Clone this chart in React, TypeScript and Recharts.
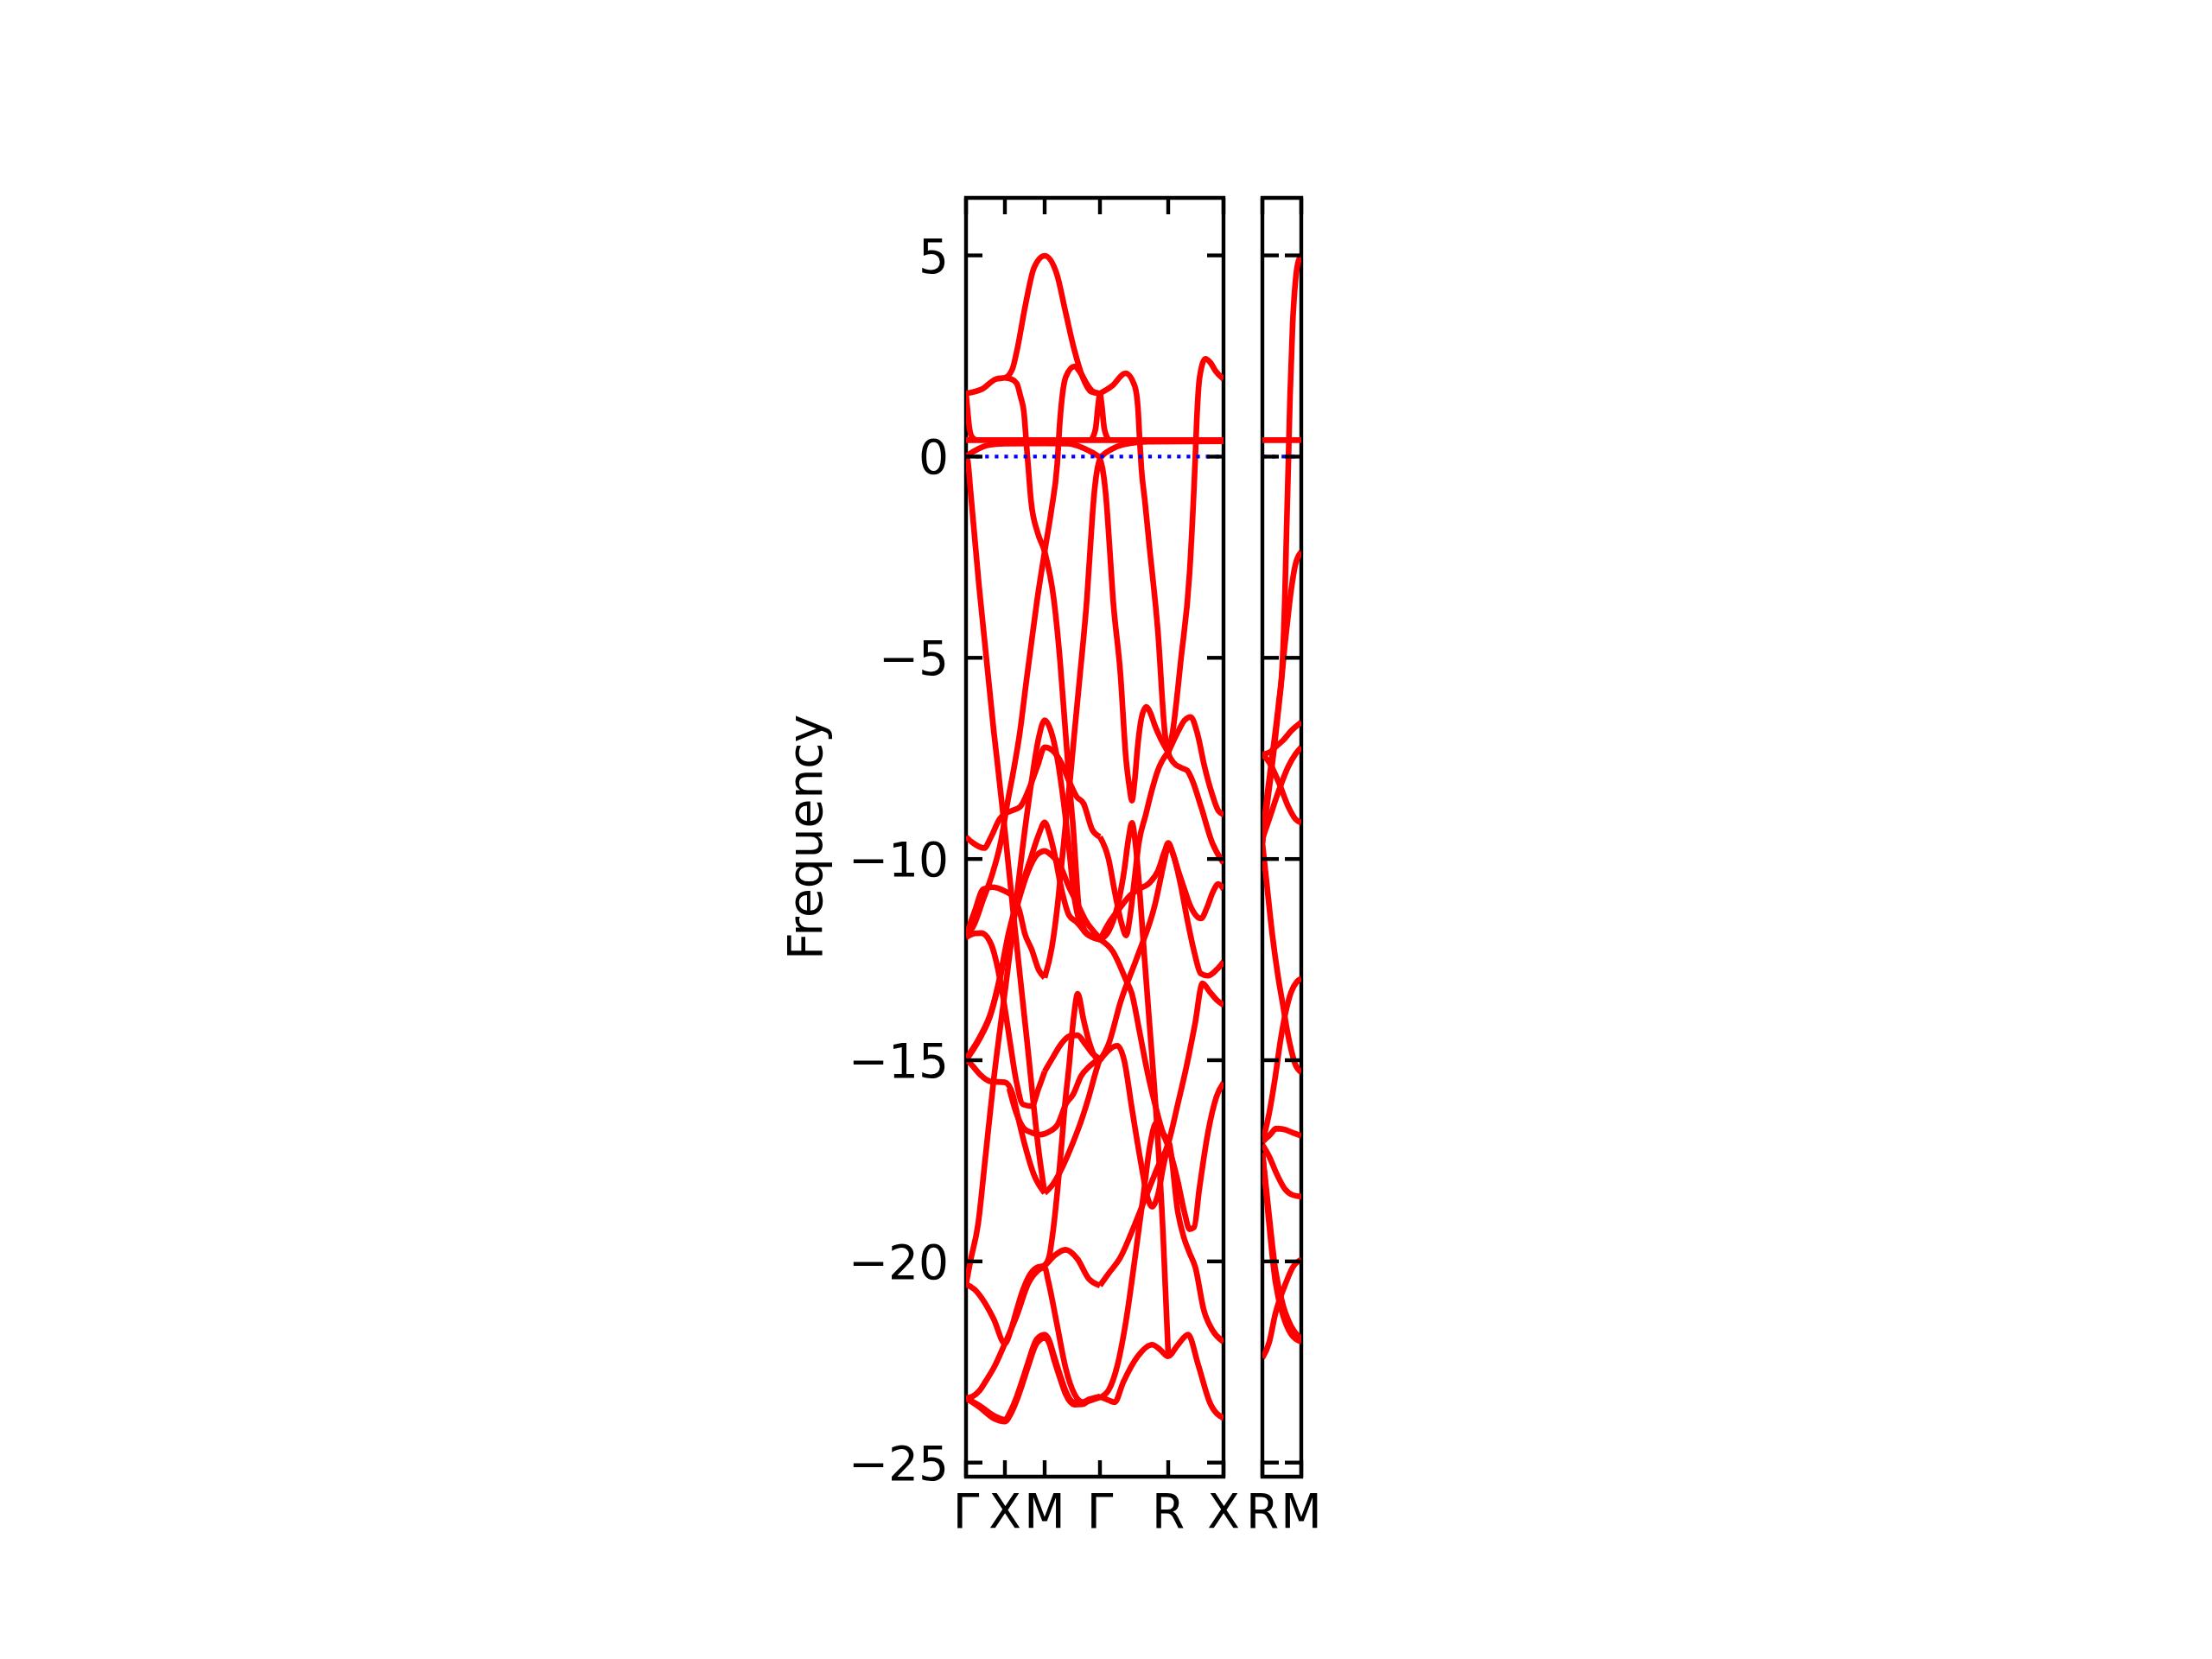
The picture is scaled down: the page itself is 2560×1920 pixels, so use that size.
import React from "react";
import { LineChart, Line, XAxis, YAxis, ReferenceLine, ReferenceArea } from "recharts";

type Pt = [number, number];

// k-path positions along the main panel and their labels
const pathTicks = [0, 45, 91, 155, 234, 298];
const pathLabels = ["Γ", "X", "M", "Γ", "R", "X"];
// side panel R -> M
const sideTicks = [0, 45];
const sideLabels = ["R", "M"];
const freqTicks = [5, 0, -5, -10, -15, -20, -25];
const freqMin = -25.35;
const freqMax = 6.43;

// ---- main panel bands (distance, frequency) ----
const flatBand: Pt[] = [[0, 0.41], [298, 0.41]];
const b01: Pt[] = [[0, 1.57], [18.7, 1.68], [35, 1.93], [45, 1.96], [53.7, 2.18], [58.7, 2.61], [68.7, 3.76], [78.7, 4.69], [91, 4.99], [105, 4.54], [115, 3.61], [125, 2.68], [135, 1.97], [145, 1.61], [155, 1.57]];
const b02: Pt[] = [[0, 1.57], [2, 1.1], [4, 0.7], [7, 0.48], [12, 0.41]];
const b03: Pt[] = [[0, 0], [8, 0.12], [20, 0.25], [35, 0.31], [45, 0.32], [91, 0.33], [118, 0.32], [135, 0.22], [148, 0.08], [155, 0], [162, 0.1], [175, 0.25], [190, 0.33], [210, 0.37], [298, 0.38]];
const b04: Pt[] = [[145, 0.42], [150, 0.7], [153, 1.3], [155, 1.57], [157, 1.3], [160, 0.7], [165, 0.42]];
const b05: Pt[] = [[45, 1.96], [52, 1.93], [58.7, 1.82], [63, 1.5], [67, 1.1], [70.3, 0.2], [72, -0.25], [75.3, -1.11], [83, -1.9], [91, -2.36], [102, -3.61], [108.7, -5.04], [115.3, -6.9], [121, -8.48], [124.3, -9.3], [127.7, -10.4], [131, -11.3], [140, -11.85], [155, -12]];
const b06: Pt[] = [[0, -11.95], [10, -11.6], [20, -11.0], [30, -10.4], [40, -9.6], [48, -8.6], [55, -7.8], [62, -6.9], [70.3, -5.5], [75.3, -4.69], [82, -3.61], [91, -2.36], [99, -1.3], [105.3, -0.25], [108.7, 0.89], [115.3, 1.97], [125.3, 2.24], [133.7, 2.04], [140, 1.8], [147, 1.62], [155, 1.57]];
const b07: Pt[] = [[0, -9.45], [8, -9.6], [21, -9.73], [29, -9.45], [39, -9.0], [45, -8.87], [53, -8.8], [62.7, -8.7], [72.7, -8.27], [82.7, -7.69], [91, -7.22], [100, -7.3], [110, -7.6], [120, -8.1], [128, -8.45], [136, -8.62], [146, -9.27], [155, -9.45]];
const b08: Pt[] = [[0, -20.57], [5, -20.0], [14, -19.07], [22, -17.5], [32, -15.49], [45, -13.3], [55, -11.6], [65, -9.8], [75, -8.2], [84, -7.0], [91, -6.55], [98, -6.8], [106, -7.55], [113, -8.6], [119, -9.7], [125, -10.9], [132, -11.6], [142, -11.9], [155, -12]];
const b09: Pt[] = [[0, -14.96], [16, -14.42], [29.3, -13.78], [39.3, -12.92], [49.3, -11.84], [61, -10.91], [76, -9.91], [84, -9.4], [91, -9.09], [97, -9.4], [102.7, -9.9], [111, -10.8], [119.3, -11.4], [127.7, -11.56], [140, -11.85], [155, -12]];
const b10: Pt[] = [[0, -15], [15, -14.5], [28, -13.9], [38, -13.1], [48, -12.1], [60, -11.1], [72, -10.3], [82, -9.9], [91, -9.8], [101, -9.95], [106, -10.05], [119.3, -10.7], [129.3, -11.13], [139.3, -11.56], [152.7, -11.92], [155, -11.98]];
const b11: Pt[] = [[0, -11.95], [10, -11.85], [17.7, -11.84], [29.3, -12.13], [39.3, -12.99], [46, -13.85], [51, -14.56], [58, -15.5], [66, -16.1], [76, -16.14], [84, -15.7], [91, -15.28]];
const b12: Pt[] = [[0, -14.96], [8, -15.15], [16, -15.35], [29, -15.53], [45, -15.55], [54, -15.85], [60, -16.4], [68, -17.1], [78.7, -17.85], [91, -18.3]];
const b13: Pt[] = [[0, 0], [2, -0.1], [5, -0.8], [15, -3.2], [32, -6.8], [36, -7.55], [45, -9.3], [55, -11.4], [70, -14.4], [85, -17.4], [91, -18.3]];
const b14: Pt[] = [[50, -15.7], [58, -16.3], [67.7, -16.71], [76, -16.8], [86, -16.85], [96, -16.78], [106, -16.6], [116, -16.07], [124, -15.85], [133, -15.4], [143, -15.15], [155, -14.96]];
const b15: Pt[] = [[91, -15.28], [100, -14.95], [110, -14.6], [120, -14.4], [129, -14.38], [138, -14.6], [147, -14.85], [155, -14.96]];
const b16: Pt[] = [[91, -20.1], [96, -19.9], [101, -19.2], [106, -18.2], [111, -17.0], [114.3, -16.14], [119.3, -15.13], [124.3, -13.99], [129.3, -13.35], [136, -13.99], [142.7, -14.56], [152.7, -14.99], [155, -15]];
const b17: Pt[] = [[91, -18.3], [100, -18.1], [108.7, -17.78], [122, -17.14], [135, -16.4], [142, -15.92], [150, -15.3], [155, -14.96]];
const b19: Pt[] = [[0, -20.57], [10, -20.7], [18.7, -20.93], [32, -21.43], [45, -22.04], [52, -21.7], [58.7, -21.2], [66, -20.7], [72, -20.4], [82, -20.15], [91, -20.1], [102, -19.86], [115, -19.71], [128.7, -19.93], [142, -20.43], [155, -20.6]];
const b20: Pt[] = [[0, -23.4], [8, -23.35], [15.3, -23.22], [25, -22.9], [32, -22.65], [45, -22.04], [58.7, -21.35], [72, -20.55], [82, -20.25], [91, -20.15], [95.3, -20.5], [105.3, -21.57], [115.3, -22.65], [125.3, -23.29], [135.3, -23.5], [145, -23.45], [155, -23.38]];
const b21: Pt[] = [[0, -23.4], [15.3, -23.58], [32, -23.83], [45, -23.93], [52, -23.7], [58.7, -23.36], [66, -22.9], [72, -22.5], [82, -21.93], [91, -21.82], [96, -21.95], [102, -22.36], [110, -22.9], [115.3, -23.22], [125.3, -23.5], [135, -23.5], [142, -23.43], [155, -23.36]];
const b22: Pt[] = [[0, -23.4], [15.3, -23.62], [32, -23.9], [45, -23.98], [52, -23.78], [58.7, -23.45], [66, -23.0], [72, -22.6], [82, -22.03], [91, -21.9], [96, -22.02], [102, -22.45], [110, -22.98], [115.3, -23.3], [125.3, -23.56], [135, -23.55], [142, -23.46], [155, -23.36]];
const b23: Pt[] = [[91, -12.95], [99.3, -12.2], [106, -11.13], [111, -10.05], [116, -8.98], [121, -7.9], [125.3, -6.9], [132, -5.4], [140, -3.5], [144, -2.2], [148, -1.0], [152, -0.3], [155, -0.05]];
const b24: Pt[] = [[0, -11.95], [5, -11.6], [10, -11.3], [20, -10.75], [30, -10.7], [45, -10.8], [55, -10.95], [62, -11.3], [68, -11.85], [76, -12.25], [84, -12.75], [91, -12.95]];

const c01: Pt[] = [[155, 1.57], [168.7, 1.75], [184.7, 2.07], [195.3, 1.75], [199, 1.2], [201, 0.4], [203, -0.3], [207, -1.1], [212, -2.18], [222, -4.33], [230.3, -6.9], [234, -7.35], [240, -7.6], [248.7, -7.73], [256, -7.8], [262, -8.05], [272, -8.7], [285, -9.6], [298, -10.1]];
const c02: Pt[] = [[234, -7.35], [238.7, -6.9], [248.7, -5.04], [258.7, -2.9], [265.3, -0.04], [267, 0.89], [270.3, 1.96], [277, 2.43], [283, 2.33], [288.7, 2.13], [298, 1.93]];
const c03: Pt[] = [[155, -0.05], [158, -0.3], [162, -1.0], [166, -2.2], [170, -3.5], [178.7, -5.4], [185.3, -7.55], [189, -8.2], [192, -8.55], [195, -8.1], [198.7, -7.19], [203, -6.5], [208.7, -6.22], [213, -6.35], [218.7, -6.69], [225, -7.0], [234, -7.35]];
const c04: Pt[] = [[234, -7.35], [245, -6.85], [253, -6.55], [260, -6.47], [268, -6.9], [276, -7.7], [285, -8.4], [292, -8.8], [298, -8.9]];
const c05: Pt[] = [[155, -9.45], [165, -10.0], [172, -10.8], [180, -11.6], [185.3, -11.9], [190, -11.4], [195, -10.5], [200, -9.6], [208, -8.9], [215, -8.3], [222, -7.8], [232, -7.4], [234, -7.35]];
const c06: Pt[] = [[155, -12], [165, -11.6], [178.7, -11.2], [190, -10.9], [200, -10.75], [212, -10.6], [222, -10.3], [230, -9.8], [234, -9.6], [240, -9.9], [245.3, -10.27], [252, -10.7], [258.7, -11.12], [266, -11.4], [272, -11.48], [279, -11.2], [285.3, -10.84], [292, -10.62], [298, -10.75]];
const c07: Pt[] = [[234, -9.6], [240, -9.9], [248, -10.6], [256, -11.5], [264, -12.3], [272, -12.85], [280, -12.9], [290, -12.75], [298, -12.55]];
const c08: Pt[] = [[155, -15], [165, -14.6], [178.7, -13.56], [198.7, -12.4], [218.7, -11.13], [228, -10.2], [234, -9.6]];
const c09: Pt[] = [[155, -12], [165, -11.8], [175, -11.2], [183, -10.3], [188, -9.5], [192, -9.1], [196, -9.6], [201, -10.8], [206, -12.3], [212, -14.0], [220, -16.3], [228, -19.3], [234, -22.3]];
const c10: Pt[] = [[155, -12], [170, -12.3], [185, -13.0], [192, -13.35], [200, -14.2], [210, -15.3], [220, -16.2], [228, -16.8], [235.3, -17.07], [245.3, -18.79], [252, -19.4], [258.7, -19.79], [265.3, -20.14], [275.3, -21.22], [285, -21.7], [298, -22.0]];
const c11: Pt[] = [[155, -20.6], [165, -20.3], [178.7, -19.9], [195, -19.1], [208.7, -18.36], [222, -17.65], [234, -17.07], [245, -16.1], [255.3, -15.14], [265, -14.1], [273.7, -13.09], [282, -13.3], [290, -13.5], [298, -13.63]];
const c12: Pt[] = [[155, -23.38], [165, -23.2], [175, -22.6], [185, -21.5], [195, -20.0], [205, -18.4], [213, -17.1], [220, -16.56], [227, -16.8], [234, -17.14], [245, -18.0], [253, -18.8], [258.7, -19.2], [264, -19.15], [270, -18.2], [280, -16.8], [290, -15.9], [298, -15.56]];
const c13: Pt[] = [[155, -15], [165, -14.75], [175.3, -14.64], [183, -15.0], [192, -16.2], [202, -17.5], [210, -18.4], [215.3, -18.64], [222, -18.35], [228.7, -17.6], [234, -17.1]];
const c14: Pt[] = [[155, -23.36], [165, -23.45], [172, -23.5], [182, -23.0], [198.7, -22.36], [215.3, -22.07], [225, -22.2], [233.7, -22.36], [245.3, -22.07], [257, -21.82], [268.7, -22.57], [282, -23.5], [298, -23.9]];

// ---- side panel bands R -> M ----
const p01: Pt[] = [[0, 0.41], [45, 0.41]];
const p02: Pt[] = [[0, -9.6], [3, -8.9], [8, -8.0], [14, -7.0], [19, -6.1], [23, -5.2], [26, -3.5], [28, -1.8], [30, -0.2], [32, 1.5], [35, 3.3], [38, 4.3], [41, 4.8], [45, 5.0]];
const p03: Pt[] = [[0, -9.6], [4.4, -8.82], [10, -7.9], [15.2, -6.95], [21, -5.8], [26.1, -4.66], [30, -3.9], [33.4, -3.3], [38, -2.7], [45, -2.37]];
const p04: Pt[] = [[0, -7.4], [8, -7.35], [16, -7.2], [24, -7.05], [34, -6.8], [45, -6.6]];
const p05: Pt[] = [[0, -7.4], [8, -7.6], [19, -8.1], [30, -8.7], [38, -9.0], [45, -9.1]];
const p06: Pt[] = [[0, -9.5], [8, -9.0], [19, -8.3], [30, -7.7], [38, -7.4], [45, -7.22]];
const p07: Pt[] = [[0, -9.6], [5, -10.6], [11.6, -11.9], [18, -12.9], [24.3, -13.7], [29, -14.3], [33.4, -14.75], [38, -15.1], [45, -15.3]];
const p08: Pt[] = [[0, -17.03], [8, -16.3], [15, -15.4], [21, -14.5], [27, -13.8], [33.4, -13.3], [40, -13.05], [45, -12.97]];
const p09: Pt[] = [[0, -17.03], [9, -16.85], [16, -16.7], [25, -16.72], [35, -16.8], [45, -16.88]];
const p10: Pt[] = [[0, -17.1], [8, -17.4], [16, -17.8], [26, -18.2], [35, -18.35], [45, -18.39]];
const p11: Pt[] = [[0, -17.3], [7, -18.7], [15, -20.2], [24, -21.1], [33, -21.6], [45, -21.93]];
const p12: Pt[] = [[0, -17.3], [7, -18.9], [15, -20.5], [24, -21.35], [33, -21.8], [45, -22.0]];
const p13: Pt[] = [[0, -22.4], [8, -22.0], [15, -21.3], [26, -20.6], [35, -20.15], [45, -19.95]];

const mainBands = [flatBand, b01, b02, b03, b04, b05, b06, b07, b08, b09, b10, b11, b12, b13, b14, b15, b16, b17, b19, b20, b21, b22, b23, b24,
  c01, c02, c03, c04, c05, c06, c07, c08, c09, c10, c11, c12, c13, c14];
const sideBands = [p01, p02, p03, p04, p05, p06, p07, p08, p09, p10, p11, p12, p13];

const FONT = "DejaVu Sans";
const FS = 55;
const TICK = 19;
const SPINE = 4.4;
const PLOT_H = 1480;
const MAIN_W = 298;
const SIDE_W = 45;

const toRows = (b: Pt[]) => b.map(([d, v]) => ({ d, v }));
const fmt = (v: number) => (v < 0 ? `\u2212${Math.abs(v)}` : `${v}`);

function makeYTick(plotW: number, withLabel: boolean) {
  return (props: any) => {
    const { x, y, payload } = props;
    return (
      <g>
        <line x1={x} y1={y} x2={x + TICK} y2={y} stroke="#000" strokeWidth={SPINE} />
        <line x1={x + plotW - TICK} y1={y} x2={x + plotW} y2={y} stroke="#000" strokeWidth={SPINE} />
        {withLabel && (
          <text x={x - 20} y={y + 20} textAnchor="end" fontSize={FS} fontFamily={FONT} fill="#000">
            {fmt(payload.value)}
          </text>
        )}
      </g>
    );
  };
}

function makeXTick(ticks: number[], labels: string[]) {
  return (props: any) => {
    const { x, y, payload } = props;
    const label = labels[ticks.indexOf(payload.value)];
    return (
      <g>
        <line x1={x} y1={y} x2={x} y2={y - TICK} stroke="#000" strokeWidth={SPINE} />
        <line x1={x} y1={y - PLOT_H} x2={x} y2={y - PLOT_H + TICK} stroke="#000" strokeWidth={SPINE} />
        <text x={x} y={y + 59} textAnchor="middle" fontSize={FS} fontFamily={FONT} fill="#000">
          {label}
        </text>
      </g>
    );
  };
}

function Panel({ bands, width, plotW, ticks, labels, yAxisWidth, marginLeft, withYLabels }: any) {
  return (
    <LineChart width={width} height={1679} margin={{ top: 79, right: width - marginLeft - yAxisWidth - plotW, bottom: 20, left: marginLeft }}>
      <XAxis
        type="number"
        dataKey="d"
        domain={[0, plotW]}
        allowDataOverflow
        ticks={ticks}
        interval={0}
        height={100}
        axisLine={false}
        tickLine={false}
        tickSize={0}
        tickMargin={0}
        tick={makeXTick(ticks, labels)}
      />
      <YAxis
        type="number"
        domain={[freqMin, freqMax]}
        allowDataOverflow
        ticks={freqTicks}
        interval={0}
        width={yAxisWidth}
        axisLine={false}
        tickLine={false}
        tickSize={0}
        tickMargin={0}
        tick={makeYTick(plotW, withYLabels)}
        label={
          withYLabels
            ? {
                content: () => (
                  <text x={51} y={819} transform="rotate(-90 51 819)" textAnchor="middle" fontSize={FS} fontFamily={FONT} fill="#000">
                    Frequency
                  </text>
                ),
              }
            : undefined
        }
      />
      {bands.map((b: Pt[], i: number) => (
        <Line
          key={i}
          data={toRows(b)}
          dataKey="v"
          type="monotone"
          stroke="#ff0000"
          strokeWidth={6.6}
          dot={false}
          activeDot={false}
          isAnimationActive={false}
        />
      ))}
      <ReferenceLine y={0} stroke="#0000ff" strokeWidth={4.2} strokeDasharray="4.2 6.9" />
      <ReferenceArea x1={0} x2={plotW} y1={freqMin} y2={freqMax} fill="none" stroke="#000" strokeWidth={SPINE} />
    </LineChart>
  );
}

export default function App() {
  return (
    <div style={{ position: "absolute", left: 0, top: 0, width: 2560, height: 1920, background: "#fff" }}>
      <div style={{ position: "absolute", left: 900, top: 150 }}>
        <Panel bands={mainBands} width={560} plotW={MAIN_W} ticks={pathTicks} labels={pathLabels} yAxisWidth={120} marginLeft={98} withYLabels />
      </div>
      <div style={{ position: "absolute", left: 1440, top: 150 }}>
        <Panel bands={sideBands} width={130} plotW={SIDE_W} ticks={sideTicks} labels={sideLabels} yAxisWidth={1} marginLeft={20} withYLabels={false} />
      </div>
    </div>
  );
}
